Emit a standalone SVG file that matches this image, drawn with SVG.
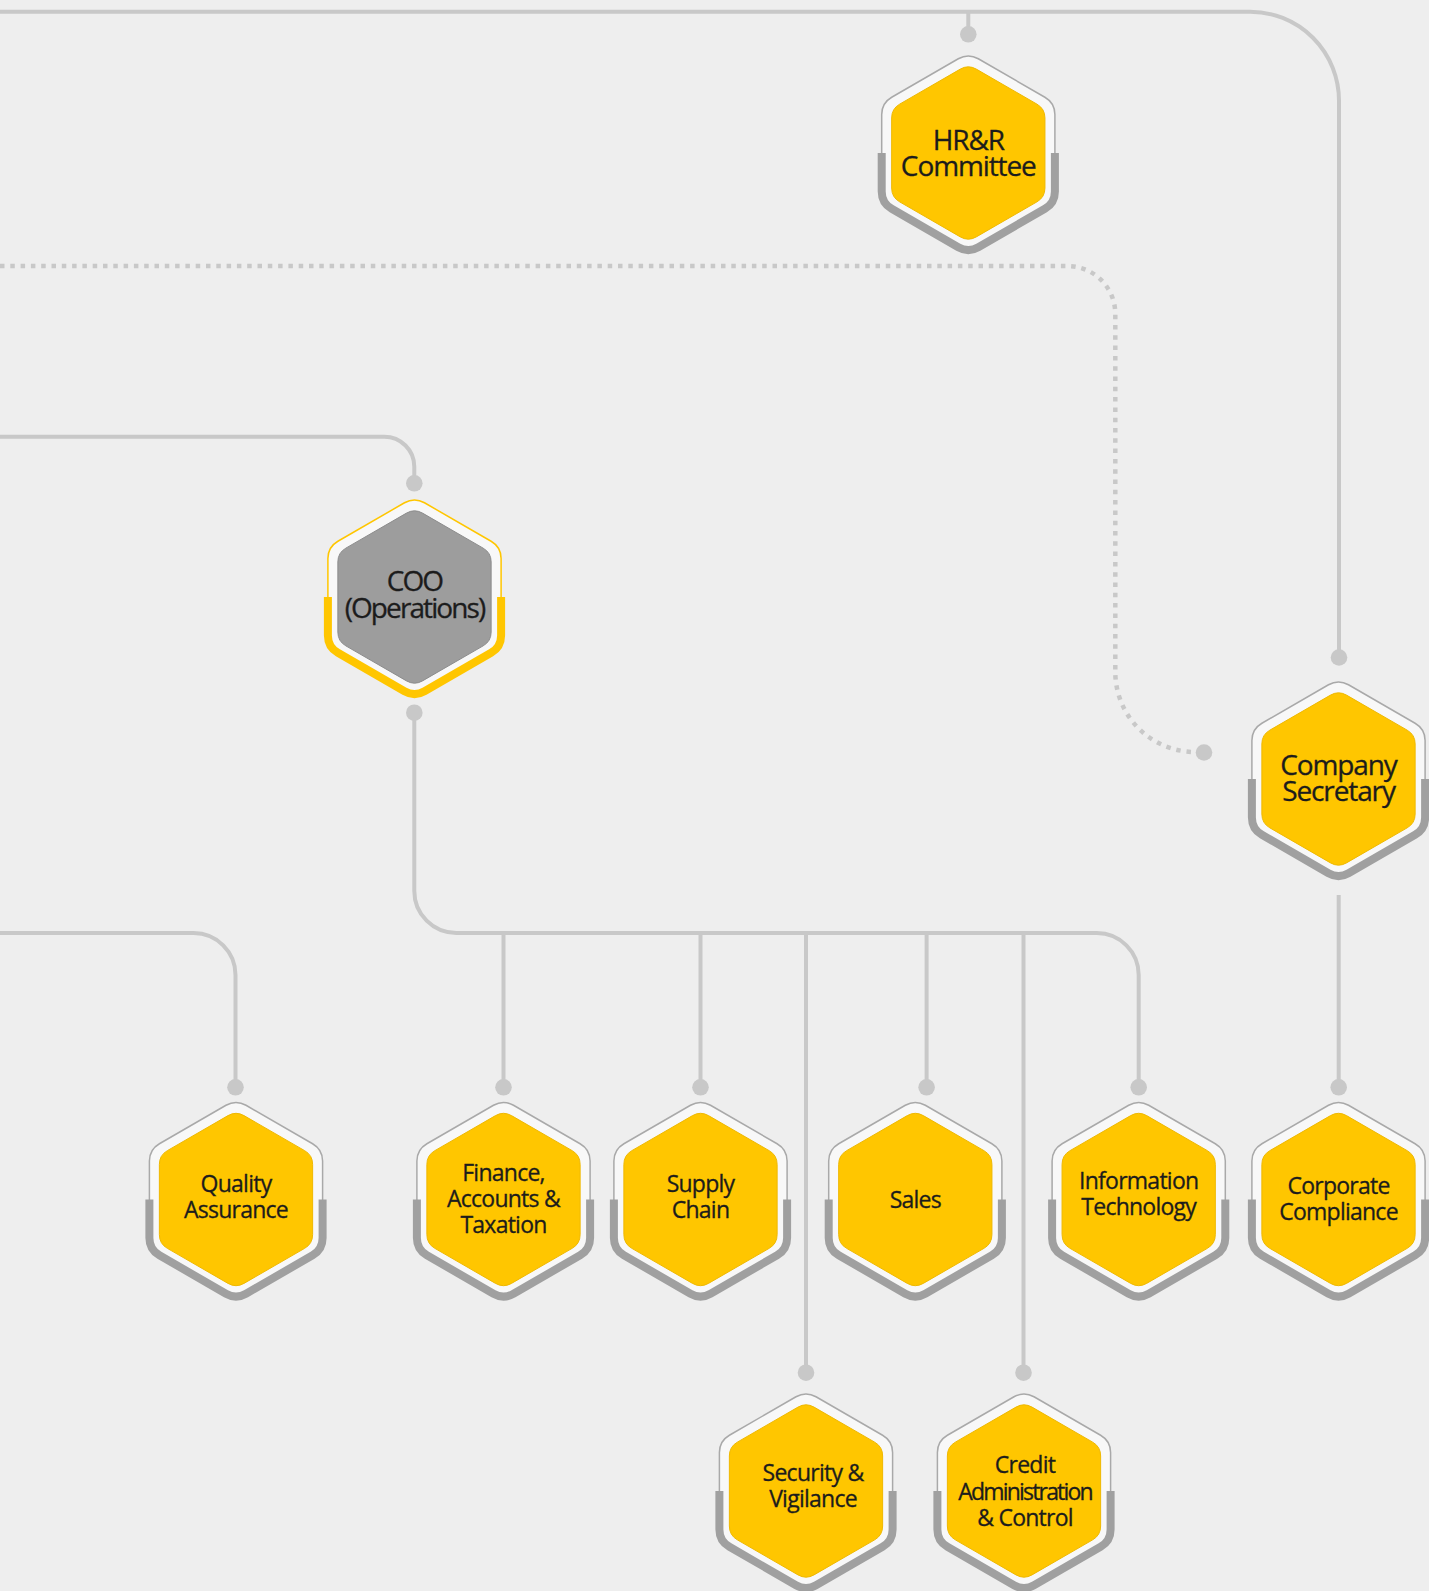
<svg xmlns="http://www.w3.org/2000/svg" width="1429" height="1591" viewBox="0 0 1429 1591">
<defs>
<path id="hexOut" d="M10,-94.23 L76.6,-55.77 A20,20 0 0 1 86.6,-38.45 L86.6,38.45 A20,20 0 0 1 76.6,55.77 L10,94.23 A20,20 0 0 1 -10,94.23 L-76.6,55.77 A20,20 0 0 1 -86.6,38.45 L-86.6,-38.45 A20,20 0 0 1 -76.6,-55.77 L-10,-94.23 A20,20 0 0 1 10,-94.23 Z"/>
<path id="band" d="M-86.6,0 L-86.6,38.45 A20,20 0 0 0 -76.6,55.77 L-10,94.23 A20,20 0 0 0 10,94.23 L76.6,55.77 A20,20 0 0 0 86.6,38.45 L86.6,0"/>
<path id="hexIn" d="M8,-83.88 L68.64,-48.87 A16,16 0 0 1 76.64,-35.01 L76.64,35.01 A16,16 0 0 1 68.64,48.87 L8,83.88 A16,16 0 0 1 -8,83.88 L-68.64,48.87 A16,16 0 0 1 -76.64,35.01 L-76.64,-35.01 A16,16 0 0 1 -68.64,-48.87 L-8,-83.88 A16,16 0 0 1 8,-83.88 Z"/>
</defs>
<style>
.bg{fill:#eeeeee}
.conn{fill:none;stroke:#c8c8c8;stroke-width:4}
.dotted{fill:none;stroke:#c8c8c8;stroke-width:4.5;stroke-dasharray:4.5 5.8}
.dot{fill:#c8c8c8}
.ring{fill:#f8f8f8;stroke:#a9a9a9;stroke-width:1.5}
.band{fill:none;stroke:#a0a0a0;stroke-width:8}
.core{fill:#ffc600;stroke:#efb800;stroke-width:1}
.coo .ring{stroke:#ffc600}
.coo .band{stroke:#ffc600}
.coo .core{fill:#9d9d9d;stroke:#8c8c8c}
text{font-family:"Open Sans","Noto Sans","DejaVu Sans",sans-serif;fill:#1c1c1c;stroke:#1c1c1c;stroke-width:0.3px;text-anchor:middle}
.lg{font-size:28px;letter-spacing:-1.1px}
.cooT{font-size:28px;letter-spacing:-1.9px}
.sm{font-size:23px;letter-spacing:-0.75px}
.tight{letter-spacing:-1.8px}
</style>
<rect class="bg" x="0" y="0" width="1429" height="1591"/>

<g id="connectors">
<path class="conn" d="M0,11.7 H1250 A89,89 0 0 1 1339,100.7 V657.5"/>
<path class="conn" d="M968.3,11.7 V34.3"/>
<path class="dotted" d="M0,266 H1067.3 A48,48 0 0 1 1115.3,314 V672 A80,80 0 0 0 1195.3,752 H1197"/>
<path class="conn" d="M0,436.7 H384.3 A30,30 0 0 1 414.3,466.7 V483.3"/>
<path class="conn" d="M414.3,712.7 V891 A42,42 0 0 0 456.3,933 H1096.7 A42,42 0 0 1 1138.7,975 V1087.3"/>
<path class="conn" d="M503.5,933 V1087.3"/>
<path class="conn" d="M700.5,933 V1087.3"/>
<path class="conn" d="M806,933 V1372.7"/>
<path class="conn" d="M926.6,933 V1087.3"/>
<path class="conn" d="M1023.5,933 V1372.7"/>
<path class="conn" d="M0,933 H193.5 A42,42 0 0 1 235.5,975 V1087.3"/>
<path class="conn" d="M1338.7,895 V1087.3"/>
<circle class="dot" cx="968.3" cy="34.3" r="8.3"/>
<circle class="dot" cx="414.3" cy="483.3" r="8.3"/>
<circle class="dot" cx="414.3" cy="712.7" r="8.3"/>
<circle class="dot" cx="1339" cy="657.5" r="8.3"/>
<circle class="dot" cx="1204" cy="752.5" r="8.3"/>
<circle class="dot" cx="235.5" cy="1087.3" r="8.3"/>
<circle class="dot" cx="503.5" cy="1087.3" r="8.3"/>
<circle class="dot" cx="700.5" cy="1087.3" r="8.3"/>
<circle class="dot" cx="926.6" cy="1087.3" r="8.3"/>
<circle class="dot" cx="1138.7" cy="1087.3" r="8.3"/>
<circle class="dot" cx="1338.7" cy="1087.3" r="8.3"/>
<circle class="dot" cx="806" cy="1372.7" r="8.3"/>
<circle class="dot" cx="1023.5" cy="1372.7" r="8.3"/>
</g>

<g id="node-hrr-committee" transform="translate(968.3,153)">
<use href="#hexOut" class="ring"/><use href="#band" class="band"/><use href="#hexIn" class="core"/>
<text class="lg"><tspan x="0" y="-3">HR&amp;R</tspan><tspan x="0" y="22.5">Committee</tspan></text>
</g>

<g id="node-coo" class="coo" transform="translate(414.5,597)">
<use href="#hexOut" class="ring"/><use href="#band" class="band"/><use href="#hexIn" class="core"/>
<text class="cooT"><tspan x="0" y="-6">COO</tspan><tspan x="0" y="21">(Operations)</tspan></text>
</g>

<g id="node-company-secretary" transform="translate(1338.5,779)">
<use href="#hexOut" class="ring"/><use href="#band" class="band"/><use href="#hexIn" class="core"/>
<text class="lg"><tspan x="0" y="-4">Company</tspan><tspan x="0" y="22">Secretary</tspan></text>
</g>

<g id="node-quality-assurance" transform="translate(236,1199.5)">
<use href="#hexOut" class="ring"/><use href="#band" class="band"/><use href="#hexIn" class="core"/>
<text class="sm"><tspan x="0" y="-8">Quality</tspan><tspan x="0" y="18">Assurance</tspan></text>
</g>

<g id="node-finance" transform="translate(503.5,1199.5)">
<use href="#hexOut" class="ring"/><use href="#band" class="band"/><use href="#hexIn" class="core"/>
<text class="sm"><tspan x="0" y="-19">Finance,</tspan><tspan x="0" y="7">Accounts &amp;</tspan><tspan x="0" y="33">Taxation</tspan></text>
</g>

<g id="node-supply-chain" transform="translate(700.5,1199.5)">
<use href="#hexOut" class="ring"/><use href="#band" class="band"/><use href="#hexIn" class="core"/>
<text class="sm"><tspan x="0" y="-8">Supply</tspan><tspan x="0" y="18">Chain</tspan></text>
</g>

<g id="node-sales" transform="translate(915.3,1199.5)">
<use href="#hexOut" class="ring"/><use href="#band" class="band"/><use href="#hexIn" class="core"/>
<text class="sm"><tspan x="0" y="8">Sales</tspan></text>
</g>

<g id="node-information-technology" transform="translate(1138.7,1199.5)">
<use href="#hexOut" class="ring"/><use href="#band" class="band"/><use href="#hexIn" class="core"/>
<text class="sm"><tspan x="0" y="-10.5">Information</tspan><tspan x="0" y="15.5">Technology</tspan></text>
</g>

<g id="node-corporate-compliance" transform="translate(1338.5,1199.5)">
<use href="#hexOut" class="ring"/><use href="#band" class="band"/><use href="#hexIn" class="core"/>
<text class="sm"><tspan x="0" y="-6">Corporate</tspan><tspan x="0" y="20">Compliance</tspan></text>
</g>

<g id="node-security-vigilance" transform="translate(806,1491)">
<use href="#hexOut" class="ring"/><use href="#band" class="band"/><use href="#hexIn" class="core"/>
<text class="sm"><tspan x="7" y="-10">Security &amp;</tspan><tspan x="7" y="16">Vigilance</tspan></text>
</g>

<g id="node-credit-administration" transform="translate(1024,1491)">
<use href="#hexOut" class="ring"/><use href="#band" class="band"/><use href="#hexIn" class="core"/>
<text class="sm"><tspan x="1" y="-18">Credit</tspan><tspan x="1" y="8.5" class="tight">Administration</tspan><tspan x="1" y="35">&amp; Control</tspan></text>
</g>
</svg>
